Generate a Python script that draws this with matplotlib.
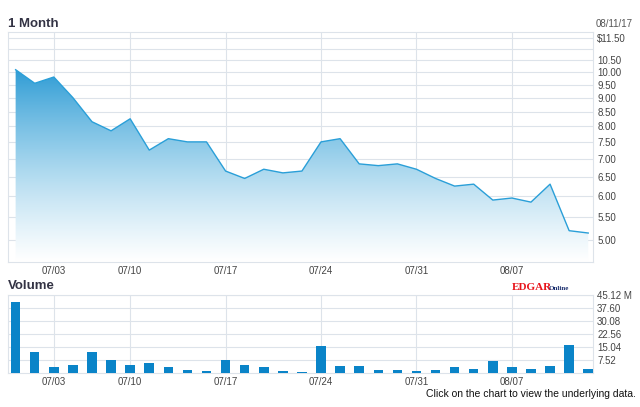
import matplotlib
matplotlib.use("Agg")
import matplotlib.pyplot as plt
import numpy as np
from matplotlib.patches import Polygon

plt.rcParams["font.family"] = ["Liberation Sans", "DejaVu Sans"]

dates = ["06/29", "06/30", "07/03", "07/05", "07/06", "07/07", "07/10", "07/11", "07/12", "07/13",
         "07/14", "07/17", "07/18", "07/19", "07/20", "07/21", "07/24", "07/25", "07/26", "07/27",
         "07/28", "07/31", "08/01", "08/02", "08/03", "08/04", "08/07", "08/08", "08/09", "08/10", "08/11"]
prices = [10.1, 9.55, 9.8, 9.0, 8.15, 7.85, 8.25, 7.25, 7.6, 7.5,
          7.5, 6.65, 6.45, 6.7, 6.6, 6.65, 7.5, 7.6, 6.85, 6.8,
          6.85, 6.7, 6.45, 6.25, 6.3, 5.9, 5.95, 5.85, 6.3, 5.2, 5.15]
volumes = [41.0, 12.0, 3.7, 4.8, 12.0, 7.7, 4.8, 6.0, 3.2, 1.7,
           1.2, 7.7, 4.8, 3.7, 1.2, 0.6, 15.6, 4.2, 4.2, 1.7,
           1.7, 1.2, 1.7, 3.2, 2.3, 7.1, 3.2, 2.3, 4.2, 16.2, 2.3]
tick_dates = ["07/03", "07/10", "07/17", "07/24", "07/31", "08/07"]
price_ticks = [5.0, 5.5, 6.0, 6.5, 7.0, 7.5, 8.0, 8.5, 9.0, 9.5, 10.0, 10.5, 11.5]
vol_ticks = [7.52, 15.04, 22.56, 30.08, 37.60, 45.12]

W, H = 640, 407
fig = plt.figure(figsize=(6.4, 4.07), dpi=100)
grid_c = "#dde3ea"
x = np.arange(len(dates))
tick_pos = [dates.index(d) for d in tick_dates]
xlim = (-0.4, len(dates) - 0.75)

# price panel
ax = fig.add_axes([8 / W, 1 - 262 / H, 585 / W, 230 / H])
ax.set_axisbelow(True)
ax.set_yscale("log")
ax.set_ylim(4.57, 11.8)
ax.set_xlim(*xlim)
grads = np.linspace(0, 1, 256).reshape(-1, 1)
cmap = matplotlib.colors.LinearSegmentedColormap.from_list("g", ["#ffffff", "#8fcbe9", "#2b9ad4"])
im = ax.imshow(grads, cmap=cmap, aspect="auto", origin="lower",
               extent=[xlim[0], xlim[1], 4.57, 10.2], zorder=2)
poly = Polygon(list(zip(x, prices)) + [(x[-1], 4.57), (x[0], 4.57)], closed=True,
               transform=ax.transData, facecolor="none", edgecolor="none")
ax.add_patch(poly)
im.set_clip_path(poly)
ax.plot(x, prices, color="#2a9fd8", lw=1.0, zorder=3)
ax.set_yticks(price_ticks)
ax.yaxis.set_minor_locator(matplotlib.ticker.NullLocator())
ax.set_yticklabels(["$11.50" if p == 11.5 else "%.2f" % p for p in price_ticks])
for p in np.arange(5.0, 11.6, 0.5):
    ax.axhline(p, color=grid_c, lw=0.8, zorder=0)
ax.set_xticks(tick_pos)
ax.set_xticklabels(tick_dates)
ax.grid(axis="x", color=grid_c, lw=0.8, zorder=0)
ax.yaxis.tick_right()
ax.tick_params(length=0, labelsize=7, colors="#444444", pad=3)
for s in ax.spines.values():
    s.set_color(grid_c)
fig.text(8 / W, 1 - 24 / H, "1 Month", fontsize=9.5, fontweight="bold", color="#333344", va="center")
fig.text(633 / W, 1 - 24 / H, "08/11/17", fontsize=7, color="#555555", va="center", ha="right")

# volume panel
av = fig.add_axes([8 / W, 1 - 373 / H, 585 / W, 78 / H])
av.set_axisbelow(True)
av.bar(x, volumes, width=0.5, color="#0a84c8", zorder=3)
av.set_xlim(*xlim)
av.set_ylim(0, 45.12)
av.set_yticks(vol_ticks)
av.set_yticklabels(["45.12 M" if v == 45.12 else "%.2f" % v for v in vol_ticks])
av.yaxis.tick_right()
av.set_xticks(tick_pos)
av.set_xticklabels(tick_dates)
av.grid(color=grid_c, lw=0.8)
av.tick_params(length=0, labelsize=7, colors="#444444", pad=3)
for s in av.spines.values():
    s.set_color(grid_c)
fig.text(8 / W, 1 - 286 / H, "Volume", fontsize=9.5, fontweight="bold", color="#333344", va="center")
fig.text(512 / W, 1 - 287 / H, "EDGAR", fontsize=8, fontweight="bold", color="#e8141b",
         va="center", family="Liberation Serif")
fig.text(549 / W, 1 - 288 / H, "Online", fontsize=5, fontweight="bold", color="#1a2e6e",
         va="center", family="Liberation Serif")
fig.text(636 / W, 1 - 394 / H, "Click on the chart to view the underlying data.", fontsize=7.5,
         color="#111111", va="center", ha="right")

fig.savefig("out.png", dpi=100)
